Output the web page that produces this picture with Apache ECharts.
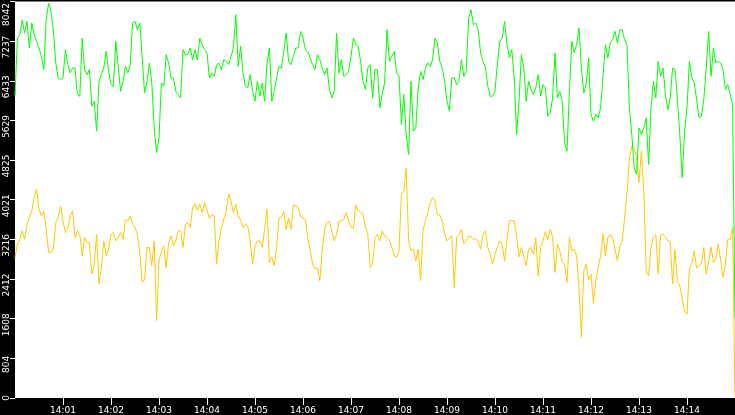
<!DOCTYPE html>
<html>
<head>
<meta charset="utf-8">
<script src="https://cdn.jsdelivr.net/npm/echarts@6/dist/echarts.min.js"></script>
<style>
html,body{margin:0;padding:0;background:#000;}
#chart{width:735px;height:415px;}
</style>
</head>
<body>
<div id="chart"></div>
<script>
// sample spacing in seconds from 14:00:00
const STEP_SEC = 3;

// x tick labels (every minute)
const xTickLabels = ['14:01','14:02','14:03','14:04','14:05','14:06','14:07','14:08','14:09','14:10','14:11','14:12','14:13','14:14'];
const xTickSeconds = [60,120,180,240,300,360,420,480,540,600,660,720,780,840];

// y tick labels
const yTickLabels = ['0','804','1608','2412','3216','4021','4825','5629','6433','7237','8042'];
const yMax = 8042;
const yStep = 804.2;

// green series
const greenValues = [
6120,7300,7368,7671,7401,7637,7098,7604,7368,7233,
7098,6929,6660,7671,8008,7840,7435,6794,6491,6457,
6491,7064,6761,6592,6693,6693,6154,6120,7300,6660,
6558,6660,5918,6019,5412,6423,6558,6693,7030,6626,
6356,6322,7233,6727,6221,6423,6727,6592,6761,7604,
7637,7469,7604,6896,6187,6423,6794,6390,5479,4974,
5277,6390,6322,6963,6794,6491,6491,6221,6154,6086,
7064,6963,6963,7098,6862,7064,6862,7300,7165,7064,
6997,6491,6592,6525,6761,6794,6660,6862,6828,6761,
6929,7098,7772,6727,7132,6592,6322,6288,6558,6221,
6019,6423,6120,6390,6019,6794,7098,6019,6221,6491,
6727,6693,7030,7401,6828,6761,6929,7098,7098,7435,
7300,7064,7030,6896,6761,6660,6963,6862,6693,6558,
6693,6255,6086,6221,7401,6592,6862,6525,6558,6626,
6929,7300,7165,7132,6828,6423,6255,6693,6761,6086,
6660,6660,5884,6154,6390,7469,6828,6929,7030,6592,
6525,5547,6154,5344,4940,6423,5412,5479,6288,6626,
6457,6693,6794,6727,6862,7300,7199,6828,6693,6423,
6019,5816,6491,6491,6356,6423,6862,6525,6626,7705,
7873,7570,7604,7469,6997,6828,6693,6322,6120,6120,
6221,6794,7233,7300,7637,7165,6896,7064,6491,5344,
6019,6963,6693,6019,6423,6255,6154,6288,6558,6120,
6356,6288,5715,5783,6086,6997,6086,6221,6019,5176,
5007,6221,7233,6997,7165,7503,6693,6187,6356,6896,
5749,5614,5749,5682,5884,6525,7165,6896,7199,7266,
7435,7199,7469,7469,7266,7165,5884,5344,4670,4535,
5479,5344,5479,5682,4737,5884,6423,6086,6828,6525,
6693,6154,5850,6086,6693,6660,6053,5344,4468,5412,
5884,6828,6491,6390,6053,5682,5715,6053,6693,7435,
6525,7098,6794,6828,6794,6660,6255,6356,6154,5952,
1630
];

// yellow series
const yellowValues = [
2850,3119,3221,3389,3221,3524,3659,3794,4064,4232,
3828,3693,3794,3423,2951,2951,3018,3558,3659,3895,
3591,3355,3423,3693,3794,3254,3389,3322,2883,3254,
3153,3153,2512,2681,3322,2310,2647,3187,2883,3018,
3322,3355,3187,3254,3355,3221,3625,3591,3693,3524,
3457,3322,2951,2344,2411,3052,3052,2681,3187,1568,
2782,2984,3086,2647,3153,3288,3086,3187,3389,3389,
3052,3524,3558,3457,3861,3942,3807,3929,3760,3962,
3807,3645,3713,3693,2715,3187,3443,3625,3794,4144,
3996,3760,3929,3693,3605,3457,3524,3490,3187,2715,
3086,3187,3187,3052,3423,3828,2748,2863,2681,3052,
3645,3659,3780,3423,3645,3423,3915,3895,3875,3672,
3659,3591,3254,2984,2715,2614,2647,2378,2984,3423,
3558,3578,3389,3187,3322,3591,3591,3625,3760,3591,
3470,3443,3915,3794,3760,3740,3470,3322,2647,2715,
3254,3322,3187,3389,3288,3254,3200,3052,2883,2850,
2984,4131,4198,4670,3187,2984,3018,2782,3018,2378,
3403,3591,3760,3962,4064,4010,3713,3713,3591,3322,
3187,3254,3288,2243,3254,3322,3423,3133,3187,3288,
3268,3221,3221,3173,3018,3322,3389,3052,2917,2715,
2917,3052,3187,3119,2782,3221,3591,3605,3591,3288,
2863,3052,2883,2681,3018,3052,2917,3254,2479,3052,
3187,3376,3200,3423,3268,2546,3119,2984,2748,2715,
2344,3254,2984,3018,2883,2243,1231,2580,2715,2391,
2512,1919,2378,2647,2883,3322,2883,3254,3322,3241,
3018,2782,3086,3167,3659,4165,4873,5109,5062,4873,
4367,5008,4198,2580,2479,3065,3268,3308,2512,3301,
3322,3268,3187,3173,2310,2998,2378,2276,2007,1757,
1703,2614,2715,2984,2634,2694,2728,3052,2512,2755,
3065,2748,2816,3119,2796,2445,2715,3221,3221,3470,
0
];

const toPairs = vals => vals.map((v, i) => [i * STEP_SEC, v]);

const chart = echarts.init(document.getElementById('chart'), null, {renderer: 'canvas'});
const FONT = 'DejaVu Sans';
chart.setOption({
  animation: false,
  backgroundColor: '#000000',
  grid: {
    left: 15, right: 0, top: 0, bottom: 17,
    show: true, backgroundColor: '#ffffff', borderWidth: 0
  },
  xAxis: {
    type: 'value',
    min: 0, max: 900, interval: 60,
    axisLine: {show: false},
    splitLine: {show: false},
    axisTick: {show: true, length: 7, customValues: xTickSeconds, lineStyle: {color: '#ffffff', width: 1}},
    axisLabel: {
      customValues: xTickSeconds,
      color: '#ffffff', fontSize: 9, fontFamily: FONT, margin: 8,
      formatter: function (v) {
        const idx = xTickSeconds.indexOf(Math.round(v));
        return idx >= 0 ? xTickLabels[idx] : '';
      }
    }
  },
  yAxis: {
    type: 'value',
    min: 0, max: yMax, interval: yStep,
    axisLine: {show: false},
    splitLine: {show: false},
    axisTick: {show: true, length: 5, lineStyle: {color: '#ffffff', width: 1}},
    axisLabel: {
      rotate: 90,
      color: '#ffffff', fontSize: 9, fontFamily: FONT, margin: 4,
      formatter: function (v) {
        const idx = Math.round(v / yStep);
        const t = yTickLabels[idx];
        if (idx === 0) return '{z|' + t + '}';
        if (idx === yTickLabels.length - 1) return '{t|' + t + '}';
        return '{m|' + t + '}';
      },
      rich: {
        z: {color: '#ffffff', fontSize: 9, fontFamily: FONT, padding: [0, 0, 0, 0]},
        m: {color: '#ffffff', fontSize: 9, fontFamily: FONT, padding: [0, 12, 0, 0]},
        t: {color: '#ffffff', fontSize: 9, fontFamily: FONT, padding: [0, 26, 0, 0]}
      }
    }
  },
  series: [
    {
      name: 'yellow', type: 'line', data: toPairs(yellowValues),
      showSymbol: false, symbol: 'none', sampling: null,
      lineStyle: {color: '#ffc800', width: 1},
      itemStyle: {color: '#ffc800'}
    },
    {
      name: 'green', type: 'line', data: toPairs(greenValues),
      showSymbol: false, symbol: 'none', sampling: null,
      lineStyle: {color: '#00ff00', width: 1},
      itemStyle: {color: '#00ff00'}
    }
  ]
});
</script>
</body>
</html>
